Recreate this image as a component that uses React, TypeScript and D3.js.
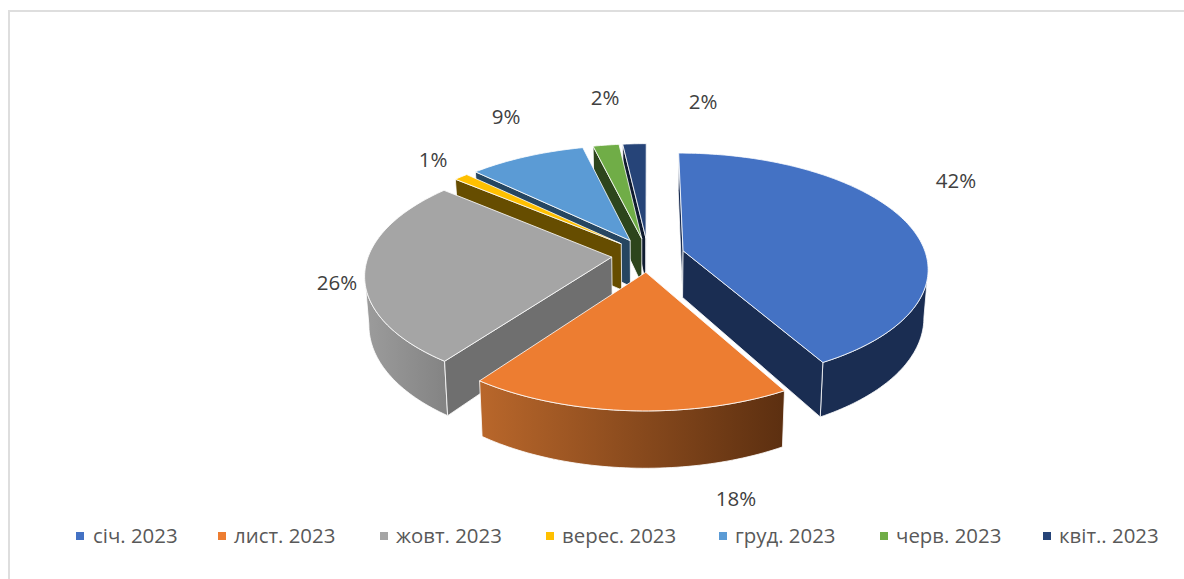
import React from "react";
import * as d3 from "d3";

const categories = ["січ. 2023", "лист. 2023", "жовт. 2023", "верес. 2023", "груд. 2023", "черв. 2023", "квіт.. 2023"];
const values = [41.9, 18.1, 26.1, 1.1, 9.0, 2.0, 1.8];
const topColors = ["#4472C4", "#ED7D31", "#A5A5A5", "#FFC000", "#5B9BD5", "#70AD47", "#264478"];
const edgeColors = ["#1A2D52", "#6B3A15", "#6F6F6F", "#664D00", "#264661", "#2D451C", "#0F1B30"];
const rimStops = [
  ["#1A2D52", "#1A2D52"],
  ["#B9672B", "#5C2F10"],
  ["#9C9C9C", "#848484"],
  ["#664D00", "#664D00"],
  ["#264661", "#264661"],
  ["#2D451C", "#2D451C"],
  ["#0F1B30", "#0F1B30"],
];
const labelAnchors: [number, number][] = [[956, 180], [736, 498], [337, 282], [433, 159], [506, 116], [605, 97], [703, 101]];
const legendMarkerX = [76, 218, 380, 546, 719, 880, 1043];
const legendTextX = [93, 234, 396, 562, 735, 896, 1059];

const CX = 648, CY = 255, RX = 243, RY = 113, K = 0.145, EXPLODE = 0.15;

type P = [number, number];
const projTop = (X: number, Y: number): P => {
  const w = 1 / (1 - K * Y);
  return [CX + RX * X * w, CY + RY * Y * w];
};
const projBot = (X: number, Y: number): P => {
  const [x, y] = projTop(X, Y);
  return [CX + (x - CX) * 0.985, y + 47 + 9 * Y];
};
const line = d3.line<P>();
const closed = (pts: P[]) => line(pts) + "Z";

const pie = d3.pie<number>().sort(null).startAngle(0).endAngle(2 * Math.PI);
const arcs = pie(values);
const total = d3.sum(values);
const pct = d3.format(".0%");

const slices = arcs.map((a, i) => {
  const mid = (a.startAngle + a.endAngle) / 2;
  const ox = EXPLODE * Math.sin(mid);
  const oy = -EXPLODE * Math.cos(mid);
  const n = Math.max(4, Math.ceil((a.endAngle - a.startAngle) / 0.02));
  const angles = d3.range(n + 1).map((j) => a.startAngle + ((a.endAngle - a.startAngle) * j) / n);
  const rim3 = angles.map((t) => [ox + Math.sin(t), oy - Math.cos(t)] as P);
  const rimT = rim3.map((p) => projTop(p[0], p[1]));
  const rimB = rim3.map((p) => projBot(p[0], p[1]));
  const apexT = projTop(ox, oy);
  const apexB = projBot(ox, oy);
  const top = closed([apexT, ...rimT]);
  const walls: string[] = [];
  if (rimT[0][0] < apexT[0]) walls.push(closed([apexT, rimT[0], rimB[0], apexB]));
  if (rimT[n][0] > apexT[0]) walls.push(closed([apexT, rimT[n], rimB[n], apexB]));
  const keep = d3.range(n + 1).filter((j) => {
    const prev = j > 0 ? rimT[j - 1][0] : rimT[j][0];
    const next = j < n ? rimT[j + 1][0] : rimT[j][0];
    return next < rimT[j][0] || prev > rimT[j][0];
  });
  const outer = keep.length > 1
    ? closed([...keep.map((j) => rimT[j]), ...keep.slice().reverse().map((j) => rimB[j])])
    : null;
  const xs = keep.map((j) => rimT[j][0]);
  return { i, top, walls, outer, depth: -Math.cos(mid), x0: d3.min(xs) ?? 0, x1: d3.max(xs) ?? 0 };
});
const order = slices.slice().sort((a, b) => d3.ascending(a.depth, b.depth));

export default function App() {
  return (
    <svg
      width={1184}
      height={579}
      style={{ position: "absolute", left: 0, top: 0, background: "#fff", fontFamily: "'Open Sans', sans-serif" }}
    >
      <defs>
        {slices.map((s) => (
          <linearGradient key={s.i} id={`rim${s.i}`} gradientUnits="userSpaceOnUse" x1={s.x0} x2={s.x1} y1={0} y2={0}>
            <stop offset="0" stopColor={rimStops[s.i][0]} />
            <stop offset="1" stopColor={rimStops[s.i][1]} />
          </linearGradient>
        ))}
      </defs>
      <rect x={8} y={10} width={2} height={569} fill="#dedede" />
      <rect x={8} y={10} width={1176} height={2} fill="#dedede" />
      {order.map((s) => (
        <g key={s.i} stroke="#fff" strokeOpacity={0.8} strokeWidth={1} strokeLinejoin="round">
          {s.outer && <path d={s.outer} fill={`url(#rim${s.i})`} />}
          {s.walls.map((d, k) => (
            <path key={k} d={d} fill={edgeColors[s.i]} />
          ))}
          <path d={s.top} fill={topColors[s.i]} />
        </g>
      ))}
      {values.map((v, i) => (
        <text
          key={i}
          x={labelAnchors[i][0]}
          y={labelAnchors[i][1]}
          textAnchor="middle"
          dominantBaseline="central"
          fontSize={20.5}
          fill="#404040"
        >
          {pct(v / total)}
        </text>
      ))}
      {categories.map((c, i) => (
        <g key={c}>
          <rect x={legendMarkerX[i]} y={532} width={8} height={8} fill={topColors[i]} />
          <text x={legendTextX[i]} y={543} fontSize={20.4} fill="#595959">
            {c}
          </text>
        </g>
      ))}
    </svg>
  );
}
